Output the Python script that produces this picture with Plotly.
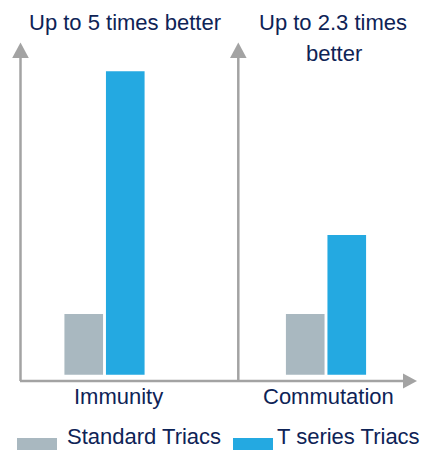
import plotly.graph_objects as go

categories = ["Immunity", "Commutation"]
standard_values = [1.0, 1.0]
tseries_values = [5.0, 2.3]
series_names = ["Standard Triacs", "T series Triacs"]
headline_1 = ["Up to 5 times better"]
headline_2 = ["Up to 2.3 times", "better"]

GRAY = "#A9B8C0"
BLUE = "#24A9E1"
NAVY = "#0E2356"
AXIS = "#A3A3A3"
FONT = "Liberation Sans, Arial, sans-serif"

W, H = 422, 450

def px(x):
    return x / W

def py(y):
    return 1 - y / H

fig = go.Figure()
fig.add_trace(go.Bar(x=categories, y=standard_values, name=series_names[0],
                     marker=dict(color=GRAY, line=dict(width=0)), showlegend=False))
fig.add_trace(go.Bar(x=categories, y=tseries_values, name=series_names[1],
                     marker=dict(color=BLUE, line=dict(width=0)), showlegend=False))

shapes = []
# axes lines
shapes.append(dict(type="line", xref="paper", yref="paper", x0=px(20), x1=px(405),
                   y0=py(381), y1=py(381), line=dict(color=AXIS, width=2.5)))
for xv in (20.5, 238.3):
    shapes.append(dict(type="line", xref="paper", yref="paper", x0=px(xv), x1=px(xv),
                       y0=py(381), y1=py(52), line=dict(color=AXIS, width=2.5)))
    # arrow heads
    shapes.append(dict(type="path", xref="paper", yref="paper",
                       path=f"M {px(xv-8.3)},{py(58)} L {px(xv)},{py(42.5)} L {px(xv+8.3)},{py(58)} Z",
                       fillcolor=AXIS, line=dict(width=0)))
shapes.append(dict(type="path", xref="paper", yref="paper",
                   path=f"M {px(403)},{py(373.5)} L {px(417)},{py(381)} L {px(403)},{py(388.5)} Z",
                   fillcolor=AXIS, line=dict(width=0)))
# legend swatches
shapes.append(dict(type="rect", xref="paper", yref="paper", x0=px(17), x1=px(57),
                   y0=py(452), y1=py(438), fillcolor=GRAY, line=dict(width=0)))
shapes.append(dict(type="rect", xref="paper", yref="paper", x0=px(233), x1=px(273),
                   y0=py(452), y1=py(438), fillcolor=BLUE, line=dict(width=0)))

annotations = []
fs = 22

def txt(text, x, y, xanchor="center"):
    annotations.append(dict(text=text, x=px(x), y=py(y), xref="paper", yref="paper",
                            showarrow=False, xanchor=xanchor, yanchor="middle", borderpad=0,
                            font=dict(size=fs, color=NAVY, family=FONT)))

txt(headline_1[0], 125, 22.8)
txt(headline_2[0], 333, 22.8)
txt(headline_2[1], 334, 53.5)
for cx, name in zip((118, 328), categories):
    txt(name, cx, 396.7)
for lx, name in zip((66, 276), series_names):
    txt(name, lx, 436.5, xanchor="left")

base_px = 374.7
unit_px = 60.7
fig.update_layout(
    width=W, height=H,
    margin=dict(l=0, r=0, t=0, b=0),
    paper_bgcolor="white", plot_bgcolor="white",
    barmode="group", bargap=0.625, bargroupgap=0.07,
    xaxis=dict(range=[-104.5 / 221.5, (W - 104.5) / 221.5], visible=False, fixedrange=True),
    yaxis=dict(range=[-(H - base_px) / unit_px, base_px / unit_px], visible=False, fixedrange=True),
    shapes=shapes, annotations=annotations,
    showlegend=False,
)
fig.write_html("out.html")
